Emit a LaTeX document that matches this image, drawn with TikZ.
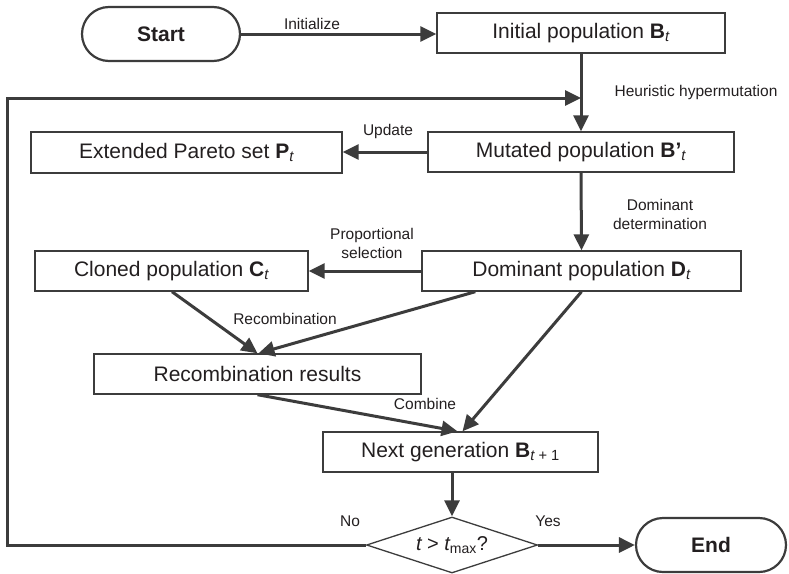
\documentclass[tikz,border=0pt]{standalone}
\usepackage{fontspec}
\setmainfont{Liberation Sans}
\usetikzlibrary{arrows.meta,shapes.geometric,calc}
\definecolor{ln}{HTML}{3C3C3C}
\definecolor{tx}{HTML}{231F20}
\newcommand{\sbt}[1]{\textsubscript{#1}}
\begin{document}
\begin{tikzpicture}[x=1pt,y=-1pt,
 box/.style={draw=ln, line width=1.4pt, minimum height=40pt, inner sep=0pt, font=\fontsize{21}{25}\selectfont, text=tx},
 pill/.style={draw=ln, line width=2.2pt, rounded corners=27pt, minimum height=54pt, inner sep=0pt, font=\bfseries\fontsize{21}{25}\selectfont, text=tx},
 lab/.style={font=\fontsize{15.5}{19}\selectfont, text=tx, align=center, inner sep=0pt},
 conn/.style={draw=ln, line width=3pt, -{Triangle[length=16pt,width=15pt]}},
 plain/.style={draw=ln, line width=3pt}]
\useasboundingbox (0,0) rectangle (789,573);
\fill[white] (0,0) rectangle (789,573);

% nodes
\node[pill, minimum width=158pt] (start) at (161,34) {Start};
\node[box, minimum width=288pt] (init) at (581,33) {Initial population \textbf{B}\sbt{\itshape t}};
\node[box, minimum width=306pt] (mut) at (581,152) {Mutated population \textbf{B’}\sbt{\itshape t}};
\node[box, minimum width=311pt, minimum height=41pt] (pareto) at (186.5,152.5) {Extended Pareto set \textbf{P}\sbt{\itshape t}};
\node[box, minimum width=319pt] (dom) at (581.5,271) {Dominant population \textbf{D}\sbt{\itshape t}};
\node[box, minimum width=273pt] (clone) at (171.5,271) {Cloned population \textbf{C}\sbt{\itshape t}};
\node[box, minimum width=327pt] (recomb) at (257.5,374) {Recombination results};
\node[box, minimum width=275pt] (next) at (460.5,452) {Next generation \textbf{B}\sbt{{\itshape t} + 1}};
\node[diamond, draw=ln, line width=1.3pt, minimum width=171pt, minimum height=56pt, inner sep=0pt, aspect=3, text=tx, font=\fontsize{20}{24}\selectfont] (dia) at (452,545) {{\itshape t} > {\itshape t}\sbt{max}?};
\node[pill, minimum width=150pt] (end) at (711,545) {End};

% feedback coordinates
\coordinate (fbA) at (7,545);
\coordinate (fbB) at (7,98);
\coordinate (fbC) at (581,98);

% connectors
\draw[conn] (start.east) -- (start.east -| init.west);
\draw[conn] (init.south) -- (mut.north);
\draw[conn] (dia.west) -- (fbA) -- (fbB) -- (fbC);
\draw[conn] (mut.west) -- (pareto.east |- mut.west);
\draw[conn] (mut.south) -- (dom.north);
\draw[conn] (dom.west) -- (clone.east);
\draw[conn] ([xshift=0.5pt]clone.south) -- (recomb.north);
\draw[conn] ([xshift=54pt]dom.south west) -- ([xshift=1pt]recomb.north);
\draw[conn] (dom.south) -- ([xshift=2pt]next.north);
\draw[conn] (recomb.south) -- ([xshift=-3pt]next.north);
\draw[conn] (dia.north |- next.south) -- (dia.north);
\draw[conn] (dia.east) -- (end.west);

% labels
\node[lab] (l1) at (312,24) {Initialize};
\node[lab] (l2) at (696,92) {Heuristic hypermutation};
\node[lab] (l3) at (388,131) {Update};
\node[lab] (l4) at (372,243) {Proportional\\selection};
\node[lab] (l5) at (660,214) {Dominant\\determination};
\node[lab] (l6) at (285,319) {Recombination};
\node[lab] (l7) at (425,404) {Combine};
\node[lab] (l8) at (350,521) {No};
\node[lab] (l9) at (548,521) {Yes};
\end{tikzpicture}
\end{document}
